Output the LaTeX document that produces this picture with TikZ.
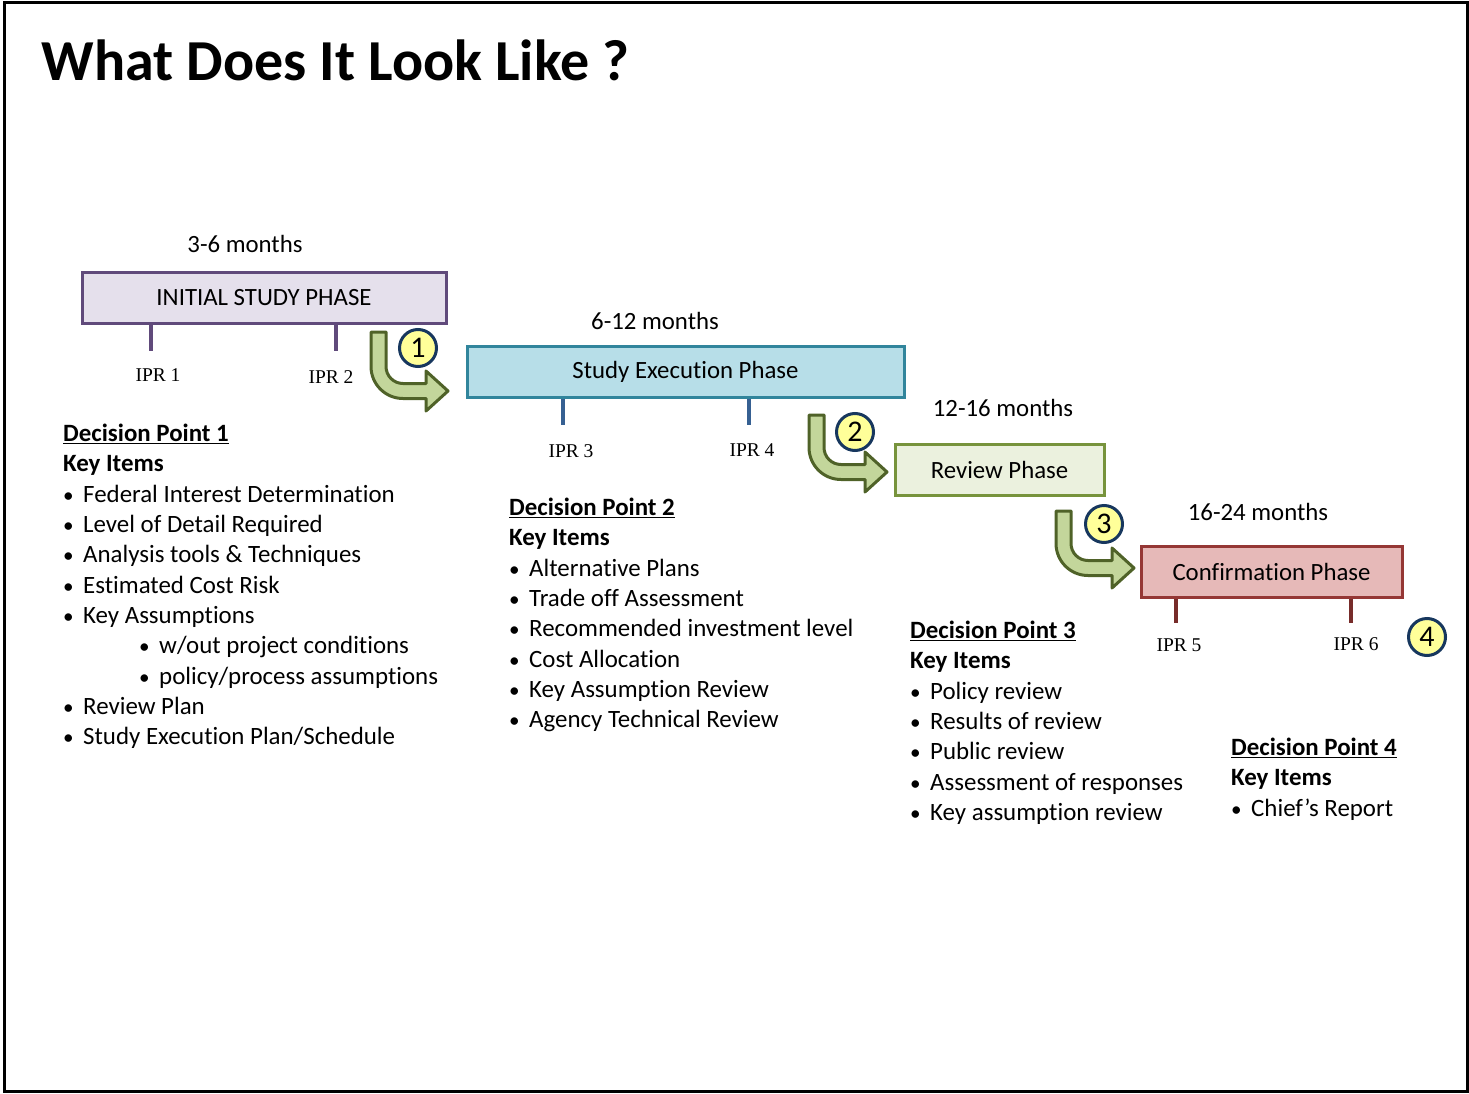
\documentclass[tikz,border=0pt]{standalone}
\usepackage{fontspec}
\setmainfont{Carlito}[Ligatures=NoCommon]
\newfontfamily\iprfont{Liberation Serif}

\definecolor{isline}{HTML}{604A7B}
\definecolor{isfill}{HTML}{E5E0EC}
\definecolor{seline}{HTML}{31859C}
\definecolor{sefill}{HTML}{B7DEE8}
\definecolor{setick}{HTML}{366092}
\definecolor{rpline}{HTML}{77933C}
\definecolor{rpfill}{HTML}{EBF1DE}
\definecolor{cpline}{HTML}{953735}
\definecolor{cpfill}{HTML}{E6B9B8}
\definecolor{cptick}{HTML}{772C2A}
\definecolor{arrline}{HTML}{4F6228}
\definecolor{arrfill}{HTML}{C3D69B}
\definecolor{badgeline}{HTML}{17375E}
\definecolor{badgefill}{HTML}{FFFF99}

\newcommand\itm[1]{\makebox[20pt][l]{\scalebox{0.85}{\textbullet}}#1}
\newcommand\subitm[1]{\hspace*{76pt}\makebox[20pt][l]{\scalebox{0.85}{\textbullet}}#1}
% bent arrow: left edge, top, centre line of head, tip
\newcommand\bentarrow[4]{%
  \draw[bent] (#1,#2) -- (#1,#3-24.5) arc[start angle=180,end angle=90,radius=32]
    -- (#4-22,#3+7.5) -- (#4-22,#3+20) -- (#4,#3) -- (#4-22,#3-20) -- (#4-22,#3-7.5)
    -- (#1+32,#3-7.5) arc[start angle=90,end angle=180,radius=17] -- (#1+15,#2) -- cycle;}

\tikzset{
  phase/.style={draw, line width=3pt, inner sep=0pt, minimum height=51pt,
    font=\fontsize{24.8}{29}\selectfont},
  months/.style={font=\fontsize{24.8}{29}\selectfont},
  ipr/.style={font=\iprfont\fontsize{19.5}{22}\selectfont},
  iprtick/.style={line width=4pt},
  badge/.style={circle, draw=badgeline, fill=badgefill, line width=3pt,
    minimum size=37pt, inner sep=0pt, font=\fontsize{30}{30}\selectfont},
  keys/.style={anchor=north west, align=left, inner sep=0pt,
    font=\fontsize{24.9}{30.3}\selectfont},
  bent/.style={draw=arrline, fill=arrfill, line width=3pt, line join=round}
}

\begin{document}
\begin{tikzpicture}[x=1pt,y=-1pt]
\useasboundingbox (0,0) rectangle (1469,1094);
\draw[line width=3pt] (4,3) rectangle (1467,1091);

\node[anchor=base west, font=\bfseries\fontsize{58}{58}\selectfont] (title) at (38,81) {What Does It Look Like ?};

% phases
\node[phase, draw=isline, fill=isfill, minimum width=364pt] (initial) at (264,298) {INITIAL STUDY PHASE};
\node[phase, draw=seline, fill=sefill, minimum width=437pt] (execution) at (685.5,371.5) {Study Execution Phase};
\node[phase, draw=rpline, fill=rpfill, minimum width=209pt] (review) at (999.5,469.5) {Review Phase};
\node[phase, draw=cpline, fill=cpfill, minimum width=261pt] (confirm) at (1271.5,571.5) {Confirmation Phase};

\node[months] (m1) at (245,244) {3-6 months};
\node[months] (m2) at (655,321) {6-12 months};
\node[months] (m3) at (1003,408) {12-16 months};
\node[months] (m4) at (1258,512) {16-24 months};

% in progress reviews
\draw[iprtick, isline] ([xshift=70pt]initial.south west) -- ++(0,26);
\draw[iprtick, isline] ([xshift=255pt]initial.south west) -- ++(0,26);
\draw[iprtick, setick] ([xshift=97pt]execution.south west) -- ++(0,26);
\draw[iprtick, setick] ([xshift=283pt]execution.south west) -- ++(0,26);
\draw[iprtick, cptick] ([xshift=36pt]confirm.south west) -- ++(0,24);
\draw[iprtick, cptick] ([xshift=211pt]confirm.south west) -- ++(0,24);
\node[ipr] (ipr1) at (158,375) {IPR 1};
\node[ipr] (ipr2) at (331,377) {IPR 2};
\node[ipr] (ipr3) at (571,451) {IPR 3};
\node[ipr] (ipr4) at (752,450) {IPR 4};
\node[ipr] (ipr5) at (1179,645) {IPR 5};
\node[ipr] (ipr6) at (1356,644) {IPR 6};

% hand overs
\bentarrow{371}{332}{391}{448}
\bentarrow{809}{415}{472}{887}
\bentarrow{1056}{511}{568}{1134}
\node[badge] (dp1badge) at (418,348) {1};
\node[badge] (dp2badge) at (855,432) {2};
\node[badge] (dp3badge) at (1104,524) {3};
\node[badge] (dp4badge) at (1427,637) {4};

% decision points
\node[keys] (dp1) at (63,424) {\underline{\textbf{Decision Point 1}}\\
  \textbf{Key Items}\\
  \itm{Federal Interest Determination}\\
  \itm{Level of Detail Required}\\
  \itm{Analysis tools \& Techniques}\\
  \itm{Estimated Cost Risk}\\
  \itm{Key Assumptions}\\
  \subitm{w/out project conditions}\\
  \subitm{policy/process assumptions}\\
  \itm{Review Plan}\\
  \itm{Study Execution Plan/Schedule}};
\node[keys] (dp2) at (509,498) {\underline{\textbf{Decision Point 2}}\\
  \textbf{Key Items}\\
  \itm{Alternative Plans}\\
  \itm{Trade off Assessment}\\
  \itm{Recommended investment level}\\
  \itm{Cost Allocation}\\
  \itm{Key Assumption Review}\\
  \itm{Agency Technical Review}};
\node[keys] (dp3) at (910,621) {\underline{\textbf{Decision Point 3}}\\
  \textbf{Key Items}\\
  \itm{Policy review}\\
  \itm{Results of review}\\
  \itm{Public review}\\
  \itm{Assessment of responses}\\
  \itm{Key assumption review}};
\node[keys] (dp4) at (1231,738) {\underline{\textbf{Decision Point 4}}\\
  \textbf{Key Items}\\
  \itm{Chief’s Report}};
\end{tikzpicture}
\end{document}
